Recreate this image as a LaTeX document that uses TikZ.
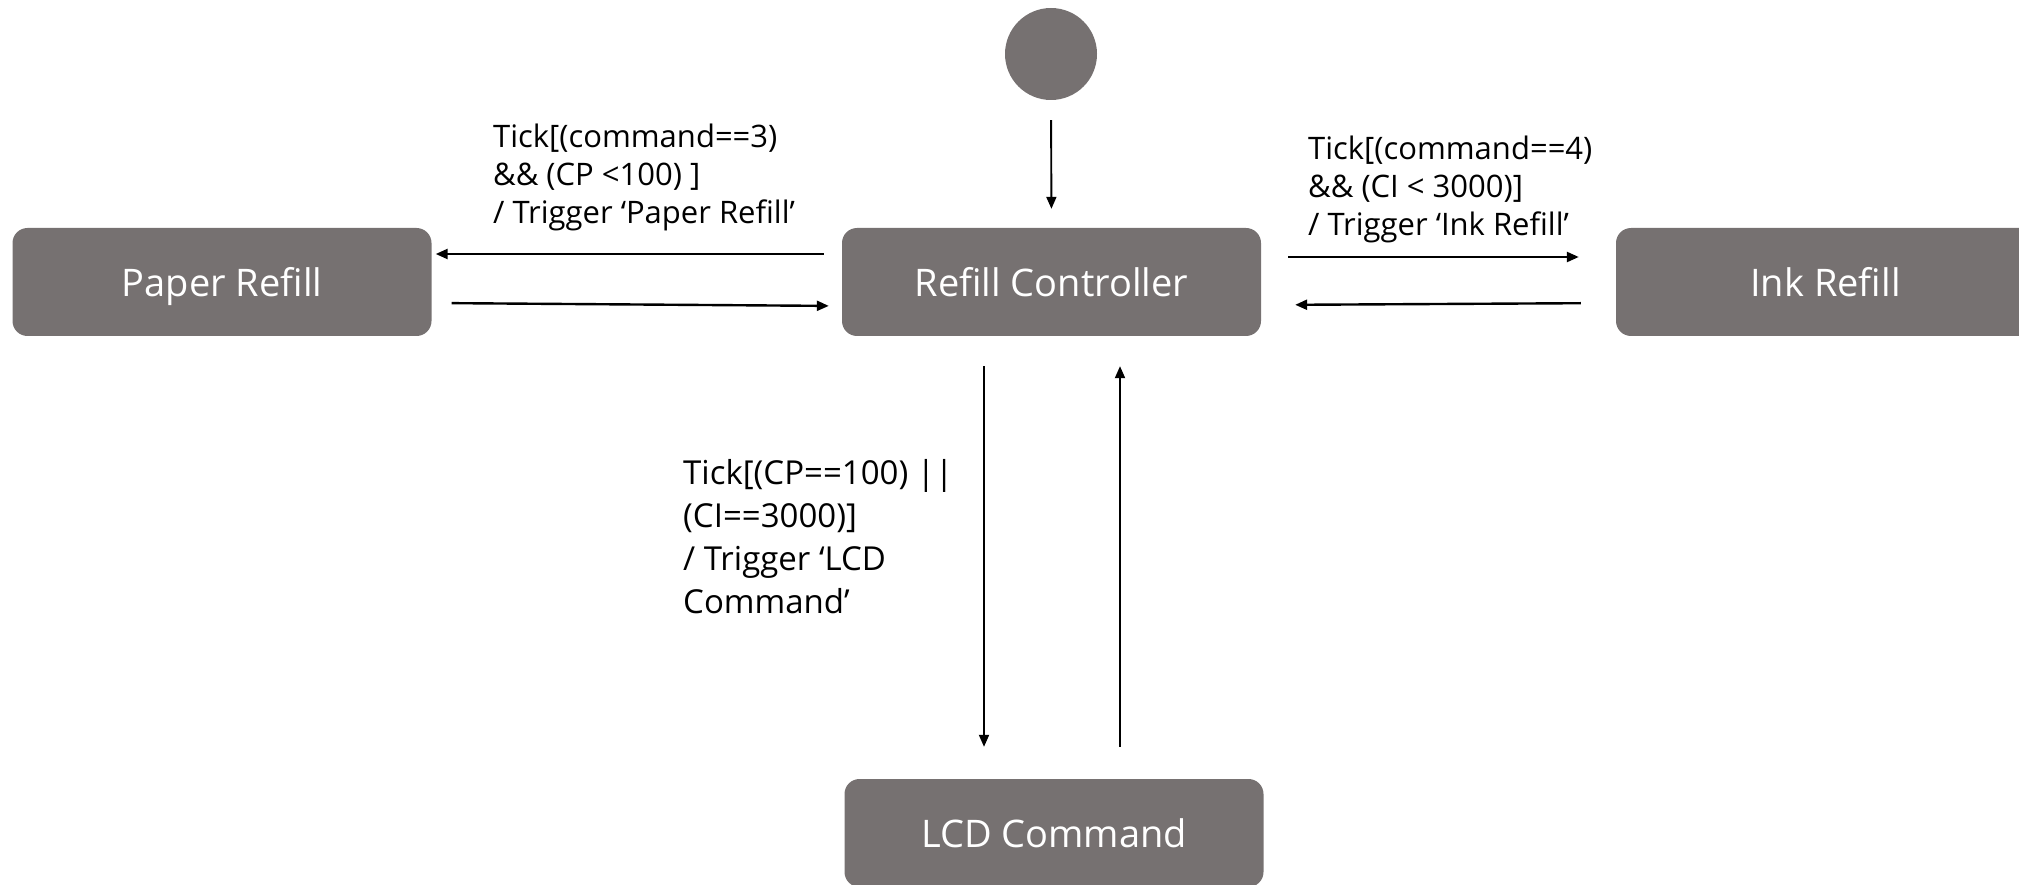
\documentclass[tikz,border=0pt]{standalone}
\usepackage{fontspec}
\setmainfont{Open Sans}
\usetikzlibrary{arrows.meta}
\definecolor{boxgray}{HTML}{767171}
\begin{document}
\begin{tikzpicture}[x=1pt,y=-1pt,
  state/.style={draw=none,fill=boxgray,rounded corners=15pt,minimum width=419pt,minimum height=108pt,
    text=white,font=\fontsize{38}{44}\selectfont,inner sep=0pt,text height=29pt,text depth=0pt},
  lbl/.style={anchor=north west,align=left,inner sep=0pt,font=\fontsize{31}{37.7}\selectfont},
  lbl2/.style={anchor=north west,align=left,inner sep=0pt,font=\fontsize{33}{43}\selectfont},
  harrow/.style={-{Triangle[length=12pt,width=10pt]},line width=2.4pt},
  varrow/.style={-{Triangle[length=12pt,width=10pt]},line width=1.9pt}]
\useasboundingbox (0,0) rectangle (2019,885);
\node[circle,fill=boxgray,minimum size=92pt,inner sep=0pt] (init) at (1051,54) {};
\node[state] (paper) at (222,282) {Paper Refill};
\node[state] (ctrl) at (1051.5,282) {Refill Controller};
\node[state] (ink) at (1825.5,282) {Ink Refill};
\node[state] (lcd) at (1054,833) {LCD Command};

\draw[varrow,shorten <=20pt,shorten >=19pt] (init.south) -- (ctrl.north);
\draw[harrow,shorten <=18pt,shorten >=4pt] ([yshift=28pt]ctrl.west) -- ([yshift=28pt]paper.east);
\draw[harrow,shorten <=20pt,shorten >=13pt] ([yshift=-21pt]paper.east) -- ([yshift=-24pt]ctrl.west);
\draw[harrow,shorten <=27pt,shorten >=37pt] ([yshift=25pt]ctrl.east) -- ([yshift=25pt]ink.west);
\draw[harrow,shorten <=35pt,shorten >=34pt] ([yshift=-21pt]ink.west) -- ([yshift=-23pt]ctrl.east);
\draw[varrow,shorten <=30pt,shorten >=32pt] ([xshift=-67.5pt]ctrl.south) -- ([xshift=-70pt]lcd.north);
\draw[varrow,shorten <=32pt,shorten >=30pt] ([xshift=66pt]lcd.north) -- ([xshift=68.5pt]ctrl.south);

\node[lbl] (l1) at (493,124) {Tick[(command==3)\\\&\& (CP <100) ]\\/ Trigger ‘Paper Refill’};
\node[lbl] (l2) at (1308,136) {Tick[(command==4)\\\&\& (CI < 3000)]\\/ Trigger ‘Ink Refill’};
\node[lbl2] (l3) at (683,459) {Tick[(CP==100) ||\\(CI==3000)]\\/ Trigger ‘LCD\\Command’};
\end{tikzpicture}
\end{document}
